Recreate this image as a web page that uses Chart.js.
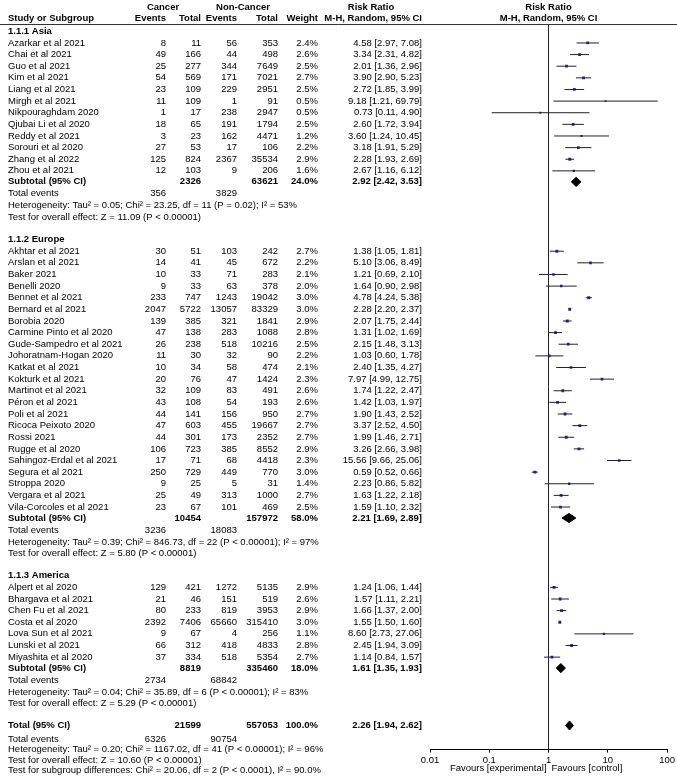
<!DOCTYPE html>
<html>
<head>
<meta charset="utf-8">
<title>Forest plot - Cancer vs Non-Cancer</title>
<script src="https://cdn.jsdelivr.net/npm/chart.js@4.4.1/dist/chart.umd.min.js"></script>
<style>
  html, body { margin: 0; padding: 0; background: #fff; }
  canvas { display: block; }
</style>
</head>
<body>
<canvas id="forest" width="677" height="780"></canvas>
<script>
// ---- Study level data ----
const studies = [
  'Azarkar et al 2021', 'Chai et al 2021', 'Guo et al 2021', 'Kim et al 2021', 'Liang et al 2021',
  'Mirgh et al 2021', 'Nikpouraghdam 2020', 'Qjubai Li et al 2020', 'Reddy et al 2021',
  'Sorouri et al 2020', 'Zhang et al 2022', 'Zhou et al 2021',
  'Akhtar et al 2021', 'Arslan et al 2021', 'Baker 2021', 'Benelli 2020', 'Bennet et al 2021',
  'Bernard et al 2021', 'Borobia 2020', 'Carmine Pinto et al 2020', 'Gude-Sampedro et al 2021',
  'Johoratnam-Hogan 2020', 'Katkat et al 2021', 'Kokturk et al 2021', 'Martinot et al 2021',
  'Péron et al 2021', 'Poli et al 2021', 'Ricoca Peixoto 2020', 'Rossi 2021', 'Rugge et al 2020',
  'Sahingoz-Erdal et al 2021', 'Segura et al 2021', 'Stroppa 2020', 'Vergara et al 2021',
  'Vila-Corcoles et al 2021',
  'Alpert et al 2020', 'Bhargava et al 2021', 'Chen Fu et al 2021', 'Costa et al 2020',
  'Lova Sun et al 2021', 'Lunski et al 2021', 'Miyashita et al 2020'
];
const studyGroup = [
  0, 0, 0, 0, 0, 0, 0, 0, 0, 0, 0, 0,
  1, 1, 1, 1, 1, 1, 1, 1, 1, 1, 1, 1, 1, 1, 1, 1, 1, 1, 1, 1, 1, 1, 1,
  2, 2, 2, 2, 2, 2, 2
];
const cancerEvents = [
  8, 49, 25, 54, 23, 11, 1, 18, 3, 27, 125, 12,
  30, 14, 10, 9, 233, 2047, 139, 47, 26, 11, 10, 20, 32, 43, 44, 47, 44, 106, 17, 250, 9, 25, 23,
  129, 21, 80, 2392, 9, 66, 37
];
const cancerTotal = [
  11, 166, 277, 569, 109, 109, 17, 65, 23, 53, 824, 103,
  51, 41, 33, 33, 747, 5722, 385, 138, 238, 30, 34, 76, 109, 108, 141, 603, 301, 723, 71, 729, 25, 49, 67,
  421, 46, 233, 7406, 67, 312, 334
];
const nonCancerEvents = [
  56, 44, 344, 171, 229, 1, 238, 191, 162, 17, 2367, 9,
  103, 45, 71, 63, 1243, 13057, 321, 283, 518, 32, 58, 47, 83, 54, 156, 455, 173, 385, 68, 449, 5, 313, 101,
  1272, 151, 819, 65660, 4, 418, 518
];
const nonCancerTotal = [
  353, 498, 7649, 7021, 2951, 91, 2947, 1794, 4471, 106, 35534, 206,
  242, 672, 283, 378, 19042, 83329, 1841, 1088, 10216, 90, 474, 1424, 491, 193, 950, 19667, 2352, 8552,
  4418, 770, 31, 1000, 469,
  5135, 519, 3953, 315410, 256, 4833, 5354
];
const weights = [
  2.4, 2.6, 2.5, 2.7, 2.5, 0.5, 0.5, 2.5, 1.2, 2.2, 2.9, 1.6,
  2.7, 2.2, 2.1, 2.0, 3.0, 3.0, 2.9, 2.8, 2.5, 2.2, 2.1, 2.3, 2.6, 2.6, 2.7, 2.7, 2.7, 2.9, 2.3, 3.0, 1.4, 2.7, 2.5,
  2.9, 2.6, 2.9, 3.0, 1.1, 2.8, 2.7
];
const riskRatio = [
  4.58, 3.34, 2.01, 3.90, 2.72, 9.18, 0.73, 2.60, 3.60, 3.18, 2.28, 2.67,
  1.38, 5.10, 1.21, 1.64, 4.78, 2.28, 2.07, 1.31, 2.15, 1.03, 2.40, 7.97, 1.74, 1.42, 1.90, 3.37, 1.99, 3.26,
  15.56, 0.59, 2.23, 1.63, 1.59,
  1.24, 1.57, 1.66, 1.55, 8.60, 2.45, 1.14
];
const ciLow = [
  2.97, 2.31, 1.36, 2.90, 1.85, 1.21, 0.11, 1.72, 1.24, 1.91, 1.93, 1.16,
  1.05, 3.06, 0.69, 0.90, 4.24, 2.20, 1.75, 1.02, 1.48, 0.60, 1.35, 4.99, 1.22, 1.03, 1.43, 2.52, 1.46, 2.66,
  9.66, 0.52, 0.86, 1.22, 1.10,
  1.06, 1.11, 1.37, 1.50, 2.73, 1.94, 0.84
];
const ciHigh = [
  7.08, 4.82, 2.96, 5.23, 3.99, 69.79, 4.90, 3.94, 10.45, 5.29, 2.69, 6.12,
  1.81, 8.49, 2.10, 2.98, 5.38, 2.37, 2.44, 1.69, 3.13, 1.78, 4.27, 12.75, 2.47, 1.97, 2.52, 4.50, 2.71, 3.98,
  25.06, 0.66, 5.82, 2.18, 2.32,
  1.44, 2.21, 2.00, 1.60, 27.06, 3.09, 1.57
];

// ---- Subgroup data ----
const subgroupNames = ['1.1.1 Asia', '1.1.2 Europe', '1.1.3 America'];
const subCancerTotal = [2326, 10454, 8819];
const subNonCancerTotal = [63621, 157972, 335460];
const subWeight = [24.0, 58.0, 18.0];
const subRiskRatio = [2.92, 2.21, 1.61];
const subLow = [2.42, 1.69, 1.35];
const subHigh = [3.53, 2.89, 1.93];
const subCancerEvents = [356, 3236, 2734];
const subNonCancerEvents = [3829, 18083, 68842];
const subHeterogeneity = [
  'Heterogeneity: Tau² = 0.05; Chi² = 23.25, df = 11 (P = 0.02); I² = 53%',
  'Heterogeneity: Tau² = 0.39; Chi² = 846.73, df = 22 (P < 0.00001); I² = 97%',
  'Heterogeneity: Tau² = 0.04; Chi² = 35.89, df = 6 (P < 0.00001); I² = 83%'
];
const subOverallTest = [
  'Test for overall effect: Z = 11.09 (P < 0.00001)',
  'Test for overall effect: Z = 5.80 (P < 0.00001)',
  'Test for overall effect: Z = 5.29 (P < 0.00001)'
];

// ---- Overall pooled data ----
const totalCounts = [21599, 557053];
const totalWeight = 100.0;
const totalEffect = [2.26, 1.94, 2.62]; // estimate, low, high
const totalEvents = [6326, 90754];
const totalNotes = [
  'Heterogeneity: Tau² = 0.20; Chi² = 1167.02, df = 41 (P < 0.00001); I² = 96%',
  'Test for overall effect: Z = 10.60 (P < 0.00001)',
  'Test for subgroup differences: Chi² = 20.06, df = 2 (P < 0.0001), I² = 90.0%'
];

// ---- Axis ----
const xTicks = [0.01, 0.1, 1, 10, 100];
const xTickLabels = ['0.01', '0.1', '1', '10', '100'];

// ---- Layout (column x positions in px, rows on the y scale) ----
const FONT_FAMILY = '"Liberation Sans", Arial, sans-serif';
const FONT_SIZE = 9.5;
const FONT = FONT_SIZE + 'px ' + FONT_FAMILY;
const BOLD = 'bold ' + FONT_SIZE + 'px ' + FONT_FAMILY;
const TEXT_COLOR = '#000';
const COL = {
  name: 8, cEvents: 166, cTotal: 201, nEvents: 237, nTotal: 278, weight: 318, effect: 422
};
const ROW = 11.65;
const DIAMOND_HALF = 4.6;

/**
 * Walk through the table and give every printed line its y value
 */
function buildRows() {
  const rows = [];
  let y = 31;
  subgroupNames.forEach((name, g) => {
    rows.push({ kind: 'group', y: y, g: g });
    y += 12;
    let first = true;
    studies.forEach((s, i) => {
      if (studyGroup[i] !== g) return;
      if (!first) y += ROW;
      first = false;
      rows.push({ kind: 'study', y: y, i: i });
    });
    y += 11;
    rows.push({ kind: 'subtotal', y: y, g: g });
    y += 12;
    rows.push({ kind: 'events', y: y, g: g });
    y += 12;
    rows.push({ kind: 'note', y: y, text: subHeterogeneity[g] });
    y += 11.5;
    rows.push({ kind: 'note', y: y, text: subOverallTest[g] });
    y += 22;
  });
  rows.push({ kind: 'total', y: y });
  y += 13.5;
  rows.push({ kind: 'totalEvents', y: y });
  totalNotes.forEach(text => {
    y += 10.5;
    rows.push({ kind: 'note', y: y, text: text });
  });
  return rows;
}

const rows = buildRows();

// ---- Datasets ----
const studyRows = rows.filter(r => r.kind === 'study');

// confidence interval whiskers, one line broken by gaps
const ciData = [];
studyRows.forEach(r => {
  ciData.push({ x: ciLow[r.i], y: r.y });
  ciData.push({ x: ciHigh[r.i], y: r.y });
  ciData.push({ x: NaN, y: r.y });
});

const pointData = studyRows.map(r => ({ x: riskRatio[r.i], y: r.y }));
const pointSizes = studyRows.map(r => 1.2 + weights[r.i] * 0.3);

function diamond(est, lo, hi, y) {
  return [
    { x: lo, y: y },
    { x: est, y: y - DIAMOND_HALF },
    { x: hi, y: y },
    { x: est, y: y + DIAMOND_HALF },
    { x: lo, y: y }
  ];
}

const diamondSets = rows
  .filter(r => r.kind === 'subtotal' || r.kind === 'total')
  .map(r => {
    const d = r.kind === 'total'
      ? diamond(totalEffect[0], totalEffect[1], totalEffect[2], r.y)
      : diamond(subRiskRatio[r.g], subLow[r.g], subHigh[r.g], r.y);
    return {
      type: 'line',
      data: d,
      borderColor: '#000',
      backgroundColor: '#000',
      borderWidth: 1,
      fill: 'shape',
      pointRadius: 0,
      tension: 0
    };
  });

// ---- Helpers ----
function fmtEffect(est, lo, hi) {
  return est.toFixed(2) + ' [' + lo.toFixed(2) + ', ' + hi.toFixed(2) + ']';
}

function text(ctx, str, x, y, align, font) {
  ctx.font = font || FONT;
  ctx.textAlign = align || 'left';
  ctx.fillText(str, x, y);
}

/**
 * Draws the table part of the forest plot next to the chart area
 */
const tablePlugin = {
  id: 'forestTable',
  afterDraw(chart) {
    const { ctx, chartArea, scales } = chart;
    const py = v => scales.y.getPixelForValue(v);
    const x1 = scales.x.getPixelForValue(1);

    ctx.save();
    ctx.fillStyle = TEXT_COLOR;
    ctx.textBaseline = 'middle';

    // header line
    ctx.strokeStyle = '#333';
    ctx.lineWidth = 1;
    ctx.beginPath();
    ctx.moveTo(0, Math.round(chartArea.top) + 0.5);
    ctx.lineTo(chart.width, Math.round(chartArea.top) + 0.5);
    ctx.stroke();

    // header text
    const h1 = py(7);
    const h2 = py(18);
    text(ctx, 'Cancer', 163, h1, 'center', BOLD);
    text(ctx, 'Non-Cancer', 243, h1, 'center', BOLD);
    text(ctx, 'Risk Ratio', 371, h1, 'center', BOLD);
    text(ctx, 'Risk Ratio', x1, h1, 'center', BOLD);
    text(ctx, 'Study or Subgroup', COL.name, h2, 'left', BOLD);
    text(ctx, 'Events', COL.cEvents, h2, 'right', BOLD);
    text(ctx, 'Total', COL.cTotal, h2, 'right', BOLD);
    text(ctx, 'Events', COL.nEvents, h2, 'right', BOLD);
    text(ctx, 'Total', COL.nTotal, h2, 'right', BOLD);
    text(ctx, 'Weight', COL.weight, h2, 'right', BOLD);
    text(ctx, 'M-H, Random, 95% CI', COL.effect, h2, 'right', BOLD);
    text(ctx, 'M-H, Random, 95% CI', x1, h2, 'center', BOLD);

    rows.forEach(r => {
      const y = py(r.y);
      if (r.kind === 'group') {
        text(ctx, subgroupNames[r.g], COL.name, y, 'left', BOLD);
      } else if (r.kind === 'study') {
        const i = r.i;
        text(ctx, studies[i], COL.name, y);
        text(ctx, String(cancerEvents[i]), COL.cEvents, y, 'right');
        text(ctx, String(cancerTotal[i]), COL.cTotal, y, 'right');
        text(ctx, String(nonCancerEvents[i]), COL.nEvents, y, 'right');
        text(ctx, String(nonCancerTotal[i]), COL.nTotal, y, 'right');
        text(ctx, weights[i].toFixed(1) + '%', COL.weight, y, 'right');
        text(ctx, fmtEffect(riskRatio[i], ciLow[i], ciHigh[i]), COL.effect, y, 'right');
      } else if (r.kind === 'subtotal') {
        const g = r.g;
        text(ctx, 'Subtotal (95% CI)', COL.name, y, 'left', BOLD);
        text(ctx, String(subCancerTotal[g]), COL.cTotal, y, 'right', BOLD);
        text(ctx, String(subNonCancerTotal[g]), COL.nTotal, y, 'right', BOLD);
        text(ctx, subWeight[g].toFixed(1) + '%', COL.weight, y, 'right', BOLD);
        text(ctx, fmtEffect(subRiskRatio[g], subLow[g], subHigh[g]), COL.effect, y, 'right', BOLD);
      } else if (r.kind === 'events') {
        text(ctx, 'Total events', COL.name, y);
        text(ctx, String(subCancerEvents[r.g]), COL.cEvents, y, 'right');
        text(ctx, String(subNonCancerEvents[r.g]), COL.nEvents, y, 'right');
      } else if (r.kind === 'note') {
        text(ctx, r.text, COL.name, y);
      } else if (r.kind === 'total') {
        text(ctx, 'Total (95% CI)', COL.name, y, 'left', BOLD);
        text(ctx, String(totalCounts[0]), COL.cTotal, y, 'right', BOLD);
        text(ctx, String(totalCounts[1]), COL.nTotal, y, 'right', BOLD);
        text(ctx, totalWeight.toFixed(1) + '%', COL.weight, y, 'right', BOLD);
        text(ctx, fmtEffect(totalEffect[0], totalEffect[1], totalEffect[2]), COL.effect, y, 'right', BOLD);
      } else if (r.kind === 'totalEvents') {
        text(ctx, 'Total events', COL.name, y);
        text(ctx, String(totalEvents[0]), COL.cEvents, y, 'right');
        text(ctx, String(totalEvents[1]), COL.nEvents, y, 'right');
      }
    });

    // favours labels under the axis
    const fy = chartArea.bottom + 19;
    text(ctx, 'Favours [experimental]', x1 - 2, fy, 'right');
    text(ctx, 'Favours [control]', x1 + 3, fy, 'left');

    ctx.restore();
  }
};

// ---- Chart ----
const canvas = document.getElementById('forest');
new Chart(canvas.getContext('2d'), {
  type: 'scatter',
  data: {
    datasets: [
      {
        type: 'line',
        label: 'CI',
        data: ciData,
        borderColor: '#222',
        borderWidth: 1,
        pointRadius: 0,
        spanGaps: false,
        fill: false,
        tension: 0
      },
      {
        type: 'scatter',
        label: 'Risk ratio',
        data: pointData,
        pointStyle: 'rect',
        pointRadius: pointSizes,
        backgroundColor: '#1f1fe6',
        borderColor: '#1f1fe6',
        borderWidth: 0
      },
      ...diamondSets
    ]
  },
  options: {
    responsive: false,
    animation: false,
    events: [],
    layout: {
      padding: { left: 430, right: 4, top: 24, bottom: 12 }
    },
    plugins: {
      legend: { display: false },
      tooltip: { enabled: false }
    },
    scales: {
      x: {
        type: 'logarithmic',
        min: 0.01,
        max: 100,
        afterBuildTicks: axis => {
          axis.ticks = xTicks.map(v => ({ value: v }));
        },
        ticks: {
          autoSkip: false,
          maxRotation: 0,
          padding: 2,
          color: TEXT_COLOR,
          font: { family: FONT_FAMILY, size: FONT_SIZE },
          callback: (value, index) => xTickLabels[index]
        },
        grid: {
          drawOnChartArea: true,
          color: c => (c.tick && c.tick.value === 1 ? '#222' : 'rgba(0,0,0,0)'),
          tickColor: '#000',
          tickLength: 3,
          lineWidth: 1
        },
        border: { display: true, color: '#000', width: 1 }
      },
      y: {
        type: 'linear',
        display: false,
        reverse: true,
        min: 24,
        max: 751
      }
    }
  },
  plugins: [tablePlugin]
});
</script>
</body>
</html>
